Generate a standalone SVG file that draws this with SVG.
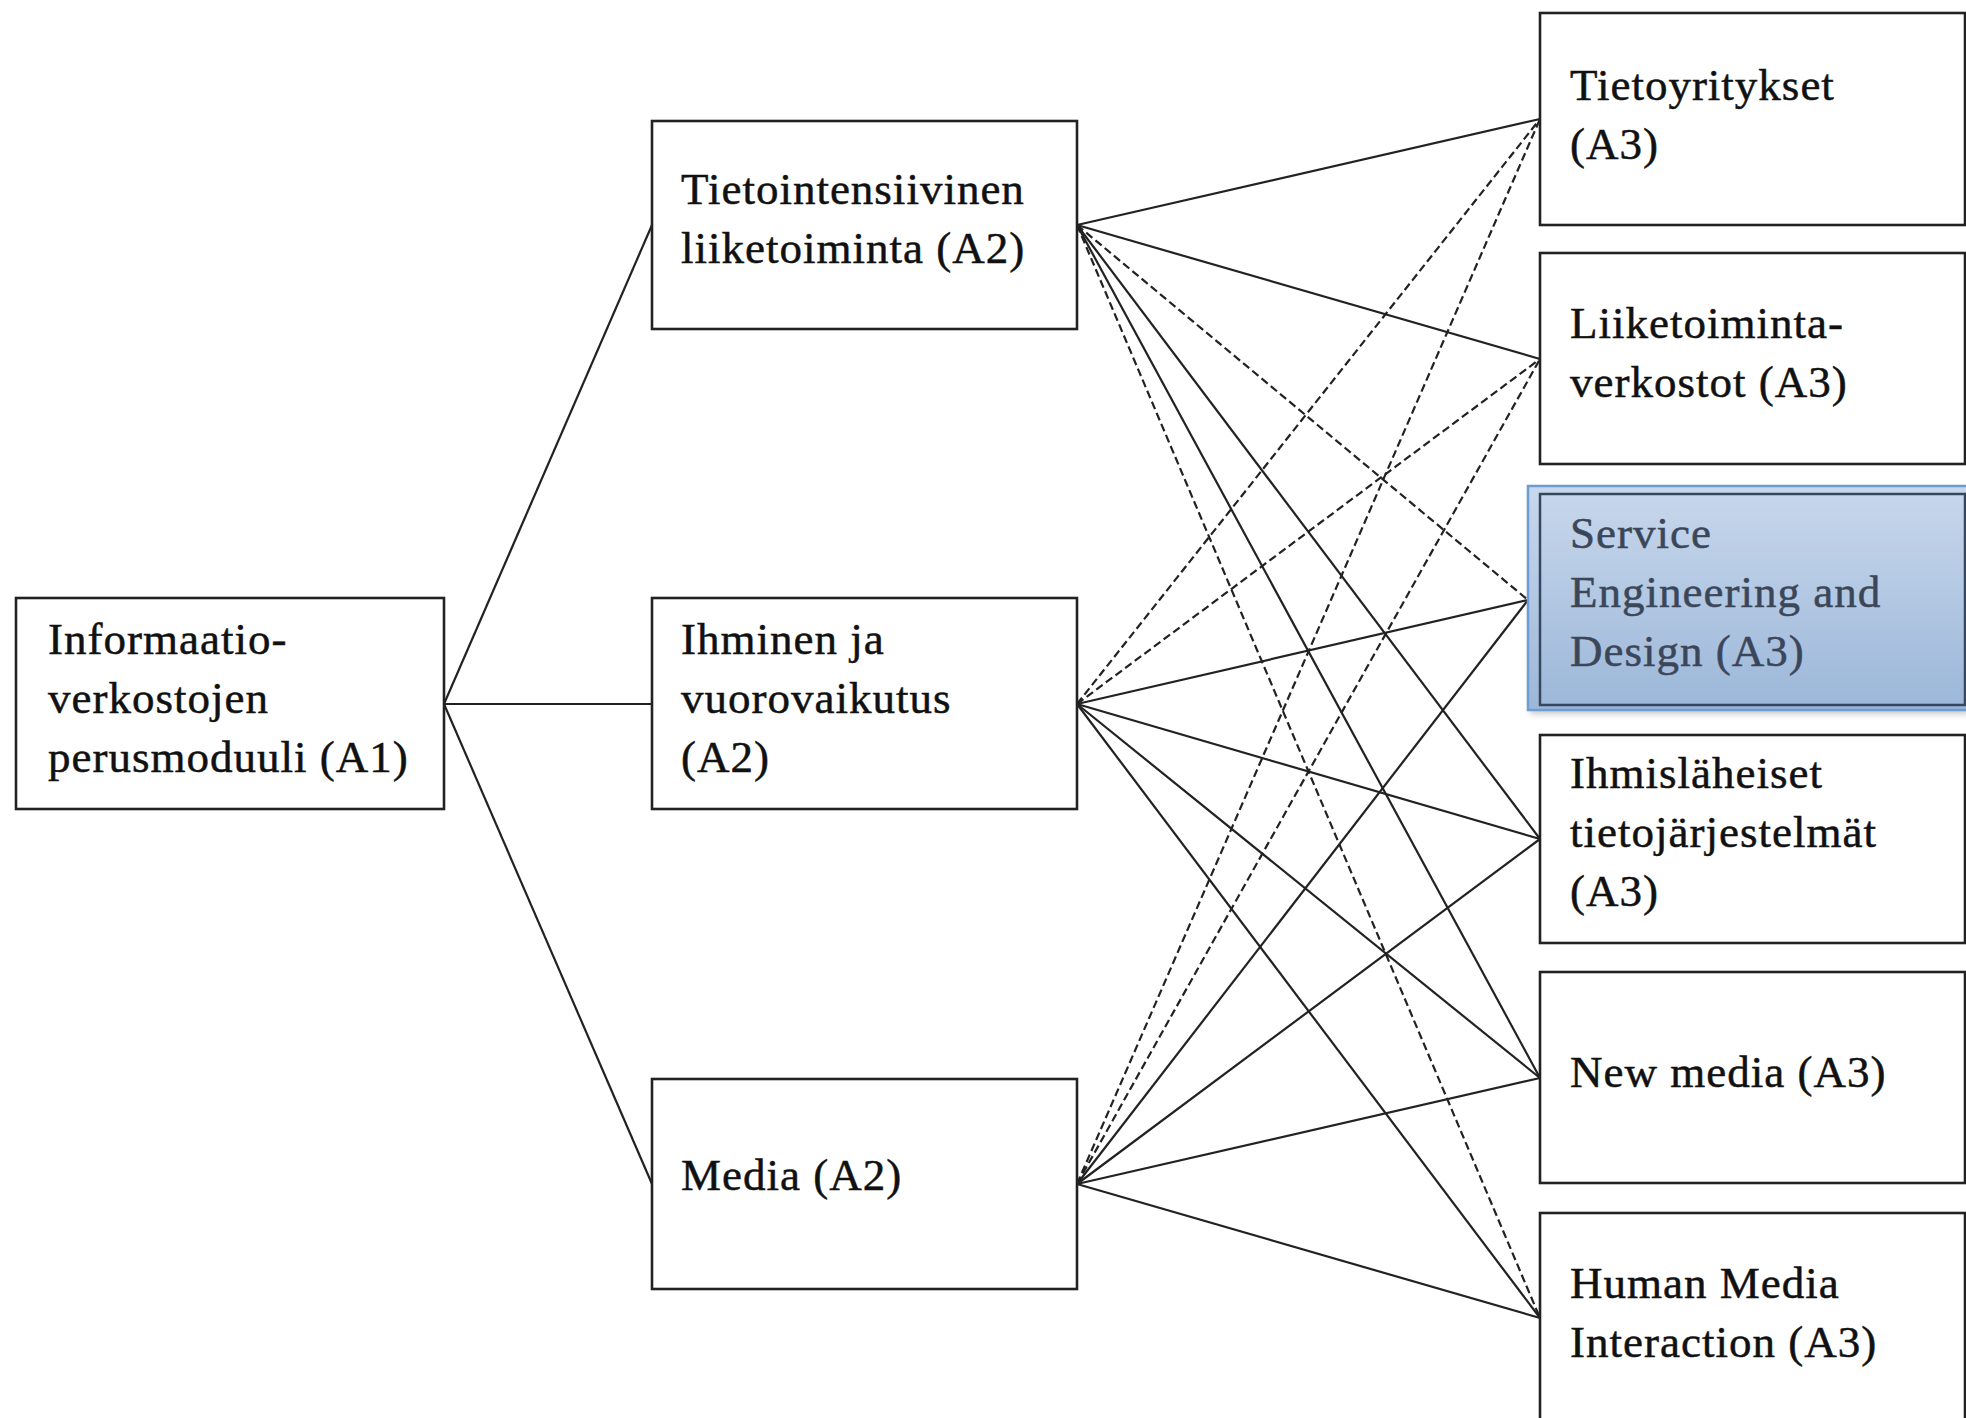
<svg xmlns="http://www.w3.org/2000/svg" width="1966" height="1418" viewBox="0 0 1966 1418">
<defs>
<style>
.box{fill:#ffffff;stroke:#222;stroke-width:2.6}
.t{font-family:"Liberation Serif","DejaVu Serif",serif;font-size:45px;letter-spacing:1px;fill:#111;stroke:#111;stroke-width:0.5}
.ts{font-family:"Liberation Serif","DejaVu Serif",serif;font-size:45px;letter-spacing:1px;fill:#3b4658;stroke:#3b4658;stroke-width:0.5}
.c{stroke:#222;stroke-width:2.2;fill:none}
.d{stroke:#222;stroke-width:2.2;fill:none;stroke-dasharray:8 4}
</style>
<linearGradient id="sg" x1="0" y1="0" x2="0" y2="1">
<stop offset="0" stop-color="#c8d8ec"/>
<stop offset="1" stop-color="#9cb7d9"/>
</linearGradient>
<filter id="sh" x="-5%" y="-5%" width="115%" height="120%">
<feGaussianBlur stdDeviation="3"/>
</filter>
</defs>
<rect width="1966" height="1418" fill="#ffffff"/>
<g id="connectors">
<line class="c" x1="444" y1="704" x2="652" y2="225"/>
<line class="c" x1="444" y1="704" x2="652" y2="704"/>
<line class="c" x1="444" y1="704" x2="652" y2="1184"/>
<line class="c" x1="1077" y1="225" x2="1540" y2="119"/>
<line class="c" x1="1077" y1="225" x2="1540" y2="359"/>
<line class="d" x1="1077" y1="225" x2="1528" y2="600"/>
<line class="c" x1="1077" y1="225" x2="1540" y2="839"/>
<line class="c" x1="1077" y1="225" x2="1540" y2="1078"/>
<line class="d" x1="1077" y1="225" x2="1540" y2="1318"/>
<line class="d" x1="1077" y1="704" x2="1540" y2="119"/>
<line class="d" x1="1077" y1="704" x2="1540" y2="359"/>
<line class="c" x1="1077" y1="704" x2="1528" y2="600"/>
<line class="c" x1="1077" y1="704" x2="1540" y2="839"/>
<line class="c" x1="1077" y1="704" x2="1540" y2="1078"/>
<line class="c" x1="1077" y1="704" x2="1540" y2="1318"/>
<line class="d" x1="1077" y1="1184" x2="1540" y2="119"/>
<line class="d" x1="1077" y1="1184" x2="1540" y2="359"/>
<line class="c" x1="1077" y1="1184" x2="1528" y2="600"/>
<line class="c" x1="1077" y1="1184" x2="1540" y2="839"/>
<line class="c" x1="1077" y1="1184" x2="1540" y2="1078"/>
<line class="c" x1="1077" y1="1184" x2="1540" y2="1318"/>
</g>
<g id="a1">
<rect class="box" x="16" y="598" width="428" height="211"/>
<text class="t" x="48" y="654">Informaatio-</text>
<text class="t" x="48" y="713">verkostojen</text>
<text class="t" x="48" y="772">perusmoduuli (A1)</text>
</g>
<g id="a2-tieto">
<rect class="box" x="652" y="121" width="425" height="208"/>
<text class="t" x="681" y="204">Tietointensiivinen</text>
<text class="t" x="681" y="263">liiketoiminta (A2)</text>
</g>
<g id="a2-ihminen">
<rect class="box" x="652" y="598" width="425" height="211"/>
<text class="t" x="681" y="654">Ihminen ja</text>
<text class="t" x="681" y="713">vuorovaikutus</text>
<text class="t" x="681" y="772">(A2)</text>
</g>
<g id="a2-media">
<rect class="box" x="652" y="1079" width="425" height="210"/>
<text class="t" x="681" y="1190">Media (A2)</text>
</g>
<g id="a3-tietoyritykset">
<rect class="box" x="1540" y="13" width="425" height="212"/>
<text class="t" x="1570" y="100">Tietoyritykset</text>
<text class="t" x="1570" y="159">(A3)</text>
</g>
<g id="a3-liiketoiminta">
<rect class="box" x="1540" y="253" width="425" height="211"/>
<text class="t" x="1570" y="338">Liiketoiminta-</text>
<text class="t" x="1570" y="397">verkostot (A3)</text>
</g>
<g id="a3-service">
<rect x="1530" y="490" width="440" height="224" fill="#888" opacity="0.45" filter="url(#sh)"/>
<rect x="1528" y="486" width="440" height="224" fill="url(#sg)" stroke="#6e9dd3" stroke-width="2.5"/>
<rect x="1540" y="494" width="425" height="211" fill="none" stroke="#37475d" stroke-width="2.5"/>
<text class="ts" x="1570" y="548">Service</text>
<text class="ts" x="1570" y="607">Engineering and</text>
<text class="ts" x="1570" y="666">Design (A3)</text>
</g>
<g id="a3-ihmislaheiset">
<rect class="box" x="1540" y="735" width="425" height="208"/>
<text class="t" x="1570" y="788">Ihmisläheiset</text>
<text class="t" x="1570" y="847">tietojärjestelmät</text>
<text class="t" x="1570" y="906">(A3)</text>
</g>
<g id="a3-newmedia">
<rect class="box" x="1540" y="972" width="425" height="211"/>
<text class="t" x="1570" y="1087">New media (A3)</text>
</g>
<g id="a3-hmi">
<rect class="box" x="1540" y="1213" width="425" height="212"/>
<text class="t" x="1570" y="1298">Human Media</text>
<text class="t" x="1570" y="1357">Interaction (A3)</text>
</g>
</svg>
